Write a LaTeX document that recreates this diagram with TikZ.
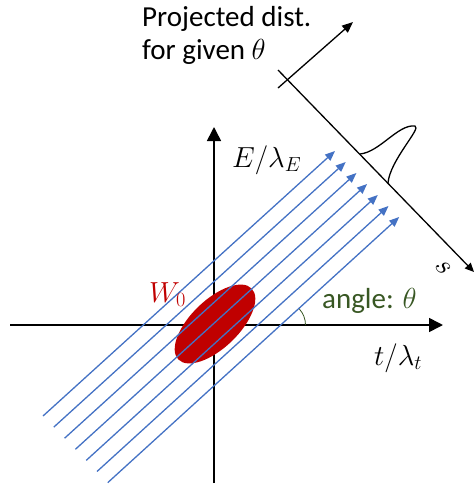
\RequirePackage{fix-cm}
\documentclass[tikz,border=0pt]{standalone}
\usepackage{fontspec}
\setmainfont{Carlito}
\usetikzlibrary{arrows.meta,shapes.geometric}
\definecolor{rayblue}{HTML}{4472C4}
\definecolor{wred}{HTML}{C00000}
\definecolor{anglegreen}{HTML}{385723}

\begin{document}
\begin{tikzpicture}[x=1pt,y=-1pt,
  axis/.style={black,line width=1.6pt,-{Triangle[length=14pt,width=14pt]}},
  proj/.style={black,line width=1.3pt},
  ray/.style={rayblue,line width=1.3pt,-{Triangle[length=10pt,width=8pt]}},
  lbl/.style={inner sep=0pt,font=\fontsize{29}{33}\selectfont},
  mathlbl/.style={inner sep=0pt,font=\fontsize{29}{34}\selectfont}
]
  \useasboundingbox (0,0) rectangle (475,488);

  % main axes
  \coordinate (tL) at (10,325);
  \coordinate (tR) at (443,325);
  \coordinate (eB) at (214,483);
  \coordinate (eT) at (214,127);
  \draw[axis] (tL) -- (tR);
  \draw[axis] (eB) -- (eT);

  % the Wigner blob
  \node[ellipse,fill=wred,minimum width=102pt,minimum height=48pt,inner sep=0pt,rotate=44]
    (w0) at (215,324) {};

  % parallel rays at angle theta
  \foreach \i in {0,...,6} {
    \coordinate (r\i) at (43+10.8*\i,416+11.1*\i);
    \coordinate (h\i) at (335+10.7*\i,151+11*\i);
    \draw[ray] (r\i) -- (h\i);
  }

  % projection axes
  \coordinate (sA) at (278,70);
  \coordinate (sB) at (474,272);
  \coordinate (pA) at (278,88);
  \coordinate (pB) at (353,22);
  \draw[proj,-{Triangle[length=9pt,width=8pt]}] (sA) -- (sB);
  \draw[proj,-{Triangle[length=11pt,width=9pt]}] (pA) -- (pB);

  % projected distribution
  \coordinate (dA) at (360,154);
  \coordinate (dP) at (415,126);
  \coordinate (dB) at (388,183);
  \draw[proj] (dA) .. controls (380,152) and (398,124) .. (dP)
    .. controls (422,128) and (390,160) .. (dB);

  % angle mark
  \coordinate (o6) at (281.5,325);
  \draw[anglegreen,line width=0.8pt] ([shift={(0:24)}]o6) arc[start angle=0,end angle=-42,radius=24];

  % labels
  \node[lbl,align=left,anchor=north west] (title) at (142,6) {Projected dist.\\for given $\theta$};
  \node[mathlbl,anchor=base west] (elbl) at (232,167) {$E/\lambda_E$};
  \node[mathlbl,anchor=base west] (tlbl) at (374,365) {$t/\lambda_t$};
  \node[mathlbl,anchor=base west,text=wred] (wlbl) at (149,302) {$W_0$};
  \node[lbl,anchor=base west,text=anglegreen] (albl) at (322,308) {angle: $\theta$};
  \node[mathlbl,rotate=-50] (slbl) at (443,268) {$s$};
\end{tikzpicture}
\end{document}
